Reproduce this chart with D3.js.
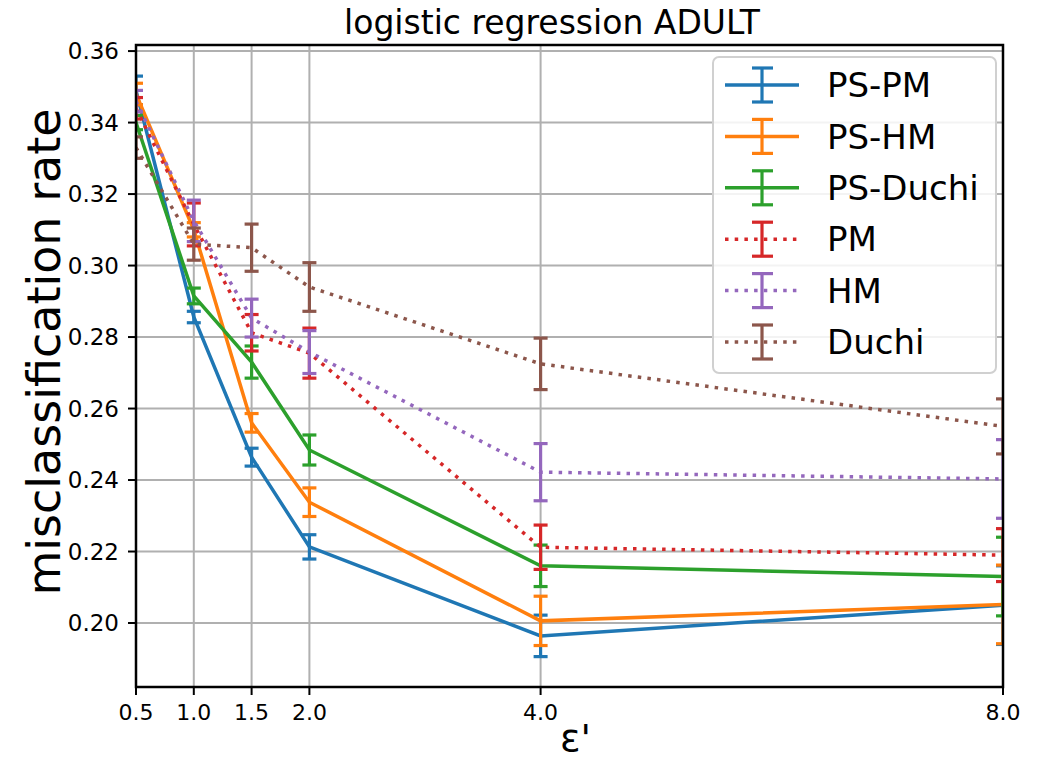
<!DOCTYPE html>
<html>
<head>
<meta charset="utf-8">
<script src="https://cdn.jsdelivr.net/npm/d3@7"></script>
<style>
  body { margin: 0; background: #fff; }
  svg { display: block; font-family: "DejaVu Sans", sans-serif; }
</style>
</head>
<body>
<div id="chart"></div>
<script>
(function () {
  'use strict';

  // epsilon' values on the x axis
  const EPS = [0.5, 1.0, 1.5, 2.0, 4.0, 8.0];
  const X_TICKS = ['0.5', '1.0', '1.5', '2.0', '4.0', '8.0'];
  const Y_TICKS = [0.20, 0.22, 0.24, 0.26, 0.28, 0.30, 0.32, 0.34, 0.36];

  const SERIES_NAMES = ['PS-PM', 'PS-HM', 'PS-Duchi', 'PM', 'HM', 'Duchi'];
  const COLORS = ['#1f77b4', '#ff7f0e', '#2ca02c', '#d62728', '#9467bd', '#8c564b'];
  const DOTTED = [false, false, false, true, true, true];

  const psPm      = [0.3490, 0.2856, 0.2464, 0.2213, 0.1964, 0.2050];
  const psPmErr   = [0.0040, 0.0016, 0.0025, 0.0034, 0.0058, 0.0110];
  const psHm      = [0.3480, 0.3100, 0.2560, 0.2338, 0.2006, 0.2052];
  const psHmErr   = [0.0030, 0.0020, 0.0026, 0.0040, 0.0069, 0.0110];
  const psDuchi   = [0.3400, 0.2915, 0.2730, 0.2484, 0.2160, 0.2130];
  const psDuchiErr= [0.0020, 0.0022, 0.0045, 0.0042, 0.0058, 0.0110];
  const pm        = [0.3440, 0.3115, 0.2812, 0.2755, 0.2212, 0.2190];
  const pmErr     = [0.0030, 0.0060, 0.0051, 0.0070, 0.0062, 0.0074];
  const hm        = [0.3460, 0.3125, 0.2853, 0.2758, 0.2422, 0.2403];
  const hmErr     = [0.0030, 0.0058, 0.0053, 0.0060, 0.0080, 0.0110];
  const duchi     = [0.3330, 0.3060, 0.3050, 0.2940, 0.2725, 0.2550];
  const duchiErr  = [0.0030, 0.0045, 0.0066, 0.0068, 0.0072, 0.0077];

  const VALUES = [psPm, psHm, psDuchi, pm, hm, duchi];
  const ERRORS = [psPmErr, psHmErr, psDuchiErr, pmErr, hmErr, duchiErr];

  const width = 1043, height = 760;
  const plot = { left: 136, right: 1003, top: 45, bottom: 687 };

  const x = d3.scaleLinear().domain([0.5, 8.0]).range([plot.left, plot.right]);
  const y = d3.scaleLinear().domain([0.1821, 0.3617]).range([plot.bottom, plot.top]);

  const svg = d3.select('#chart').append('svg')
    .attr('width', width).attr('height', height);

  svg.append('defs').append('clipPath').attr('id', 'plot-clip')
    .append('rect')
    .attr('x', plot.left).attr('y', plot.top)
    .attr('width', plot.right - plot.left).attr('height', plot.bottom - plot.top);

  // grid
  const grid = svg.append('g').attr('stroke', '#b0b0b0').attr('stroke-width', 2);
  grid.selectAll('line.gx').data(EPS).join('line')
    .attr('x1', d => x(d)).attr('x2', d => x(d))
    .attr('y1', plot.top).attr('y2', plot.bottom);
  grid.selectAll('line.gy').data(Y_TICKS).join('line')
    .attr('x1', plot.left).attr('x2', plot.right)
    .attr('y1', d => y(d)).attr('y2', d => y(d));

  // series
  const marks = svg.append('g').attr('clip-path', 'url(#plot-clip)');
  const line = d3.line().x((d, i) => x(EPS[i])).y(d => y(d));
  const CAP = 7;

  SERIES_NAMES.forEach((name, s) => {
    const g = marks.append('g');
    const vals = VALUES[s], errs = ERRORS[s], color = COLORS[s];
    const pts = vals.map((v, i) => ({ x: EPS[i], v, e: errs[i] }));

    g.selectAll('line.bar').data(pts).join('line')
      .attr('x1', d => x(d.x)).attr('x2', d => x(d.x))
      .attr('y1', d => y(d.v - d.e)).attr('y2', d => y(d.v + d.e))
      .attr('stroke', color).attr('stroke-width', 3.2);
    g.selectAll('line.capt').data(pts).join('line')
      .attr('x1', d => x(d.x) - CAP).attr('x2', d => x(d.x) + CAP)
      .attr('y1', d => y(d.v + d.e)).attr('y2', d => y(d.v + d.e))
      .attr('stroke', color).attr('stroke-width', 3.2);
    g.selectAll('line.capb').data(pts).join('line')
      .attr('x1', d => x(d.x) - CAP).attr('x2', d => x(d.x) + CAP)
      .attr('y1', d => y(d.v - d.e)).attr('y2', d => y(d.v - d.e))
      .attr('stroke', color).attr('stroke-width', 3.2);

    g.append('path').datum(vals)
      .attr('d', line)
      .attr('fill', 'none')
      .attr('stroke', color)
      .attr('stroke-width', 3.5)
      .attr('stroke-dasharray', DOTTED[s] ? '3.5,6.2' : null);
  });

  // frame
  svg.append('rect')
    .attr('x', plot.left).attr('y', plot.top)
    .attr('width', plot.right - plot.left).attr('height', plot.bottom - plot.top)
    .attr('fill', 'none').attr('stroke', '#000').attr('stroke-width', 2.5);

  // y ticks
  const yt = svg.append('g');
  yt.selectAll('line').data(Y_TICKS).join('line')
    .attr('x1', plot.left - 8).attr('x2', plot.left)
    .attr('y1', d => y(d)).attr('y2', d => y(d))
    .attr('stroke', '#000').attr('stroke-width', 2);
  yt.selectAll('text').data(Y_TICKS).join('text')
    .attr('x', plot.left - 17).attr('y', d => y(d))
    .attr('dy', '0.36em')
    .attr('text-anchor', 'end')
    .attr('font-size', 23)
    .text(d => d.toFixed(2));

  // x ticks
  const xt = svg.append('g');
  xt.selectAll('line').data(EPS).join('line')
    .attr('x1', d => x(d)).attr('x2', d => x(d))
    .attr('y1', plot.bottom).attr('y2', plot.bottom + 8)
    .attr('stroke', '#000').attr('stroke-width', 2);
  xt.selectAll('text').data(EPS).join('text')
    .attr('x', d => x(d)).attr('y', plot.bottom + 33)
    .attr('text-anchor', 'middle')
    .attr('font-size', 22)
    .text((d, i) => X_TICKS[i]);

  // title and axis labels
  svg.append('text')
    .attr('x', 552).attr('y', 34)
    .attr('text-anchor', 'middle')
    .attr('font-size', 33)
    .text('logistic regression ADULT');

  svg.append('text')
    .attr('transform', 'translate(60,' + 352 + ') rotate(-90)')
    .attr('text-anchor', 'middle')
    .attr('font-size', 46)
    .text('misclassification rate');

  svg.append('text')
    .attr('x', 560).attr('y', 751)
    .attr('text-anchor', 'start')
    .attr('font-size', 38)
    .text('\u03b5\'');

  // legend
  const lg = svg.append('g');
  lg.append('rect')
    .attr('x', 713).attr('y', 57)
    .attr('width', 283).attr('height', 316)
    .attr('rx', 6)
    .attr('fill', 'rgba(255,255,255,0.85)')
    .attr('stroke', '#d0d0d0').attr('stroke-width', 2);

  SERIES_NAMES.forEach((name, s) => {
    const cy = 85 + s * 51.4;
    const color = COLORS[s];
    const row = lg.append('g');
    row.append('line')
      .attr('x1', 725).attr('x2', 799).attr('y1', cy).attr('y2', cy)
      .attr('stroke', color).attr('stroke-width', 3.5)
      .attr('stroke-dasharray', DOTTED[s] ? '3.5,6.2' : null);
    row.append('line')
      .attr('x1', 762).attr('x2', 762).attr('y1', cy - 17).attr('y2', cy + 17)
      .attr('stroke', color).attr('stroke-width', 3.2);
    [cy - 17, cy + 17].forEach(cv => {
      row.append('line')
        .attr('x1', 752).attr('x2', 773).attr('y1', cv).attr('y2', cv)
        .attr('stroke', color).attr('stroke-width', 3.2);
    });
    row.append('text')
      .attr('x', 827).attr('y', cy)
      .attr('dy', '0.36em')
      .attr('font-size', 34)
      .text(name);
  });
})();
</script>
</body>
</html>
